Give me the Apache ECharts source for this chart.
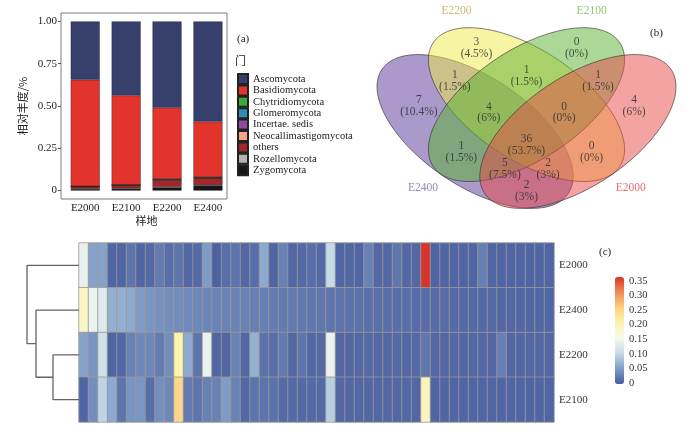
<!DOCTYPE html>
<html><head><meta charset="utf-8">
<script src="https://cdn.jsdelivr.net/npm/echarts@6/dist/echarts.min.js"></script>
<style>html,body{margin:0;padding:0;background:#fff}#c{width:700px;height:429px}</style>
</head><body><div id="c"></div>
<script>
// ---------- (a) stacked bars ----------
const sites = ['E2000','E2100','E2200','E2400'];
const phyla = ['Ascomycota','Basidiomycota','Chytridiomycota','Glomeromycota','Incertae. sedis','Neocallimastigomycota','others','Rozellomycota','Zygomycota'];
const ascomycota            = [0.345, 0.438, 0.510, 0.592];
const basidiomycota         = [0.629, 0.527, 0.421, 0.329];
const chytridiomycota       = [0.0005,0.0005,0.001, 0.001];
const glomeromycota         = [0.001, 0.001, 0.003, 0.003];
const incertaeSedis         = [0.001, 0.001, 0.002, 0.002];
const neocallimastigomycota = [0.0005,0.0005,0.001, 0.001];
const others                = [0.013, 0.018, 0.040, 0.040];
const rozellomycota         = [0.002, 0.004, 0.004, 0.004];
const zygomycota            = [0.008, 0.010, 0.018, 0.028];
const yTicks = [0, 0.25, 0.5, 0.75, 1];

// ---------- (b) Venn ----------
const vennSets = ['E2400','E2200','E2100','E2000'];
const vennRegions = ['E2400','E2200','E2100','E2000','E2400&E2200','E2200&E2100','E2100&E2000',
  'E2400&E2200&E2100','E2200&E2100&E2000','E2400&E2100','E2400&E2200&E2100&E2000','E2200&E2000',
  'E2400&E2100&E2000','E2400&E2200&E2000','E2400&E2000'];
const vennCounts   = [7, 3, 0, 4, 1, 1, 1, 4, 0, 1, 36, 0, 5, 2, 2];
const vennPercents = ['10.4%','4.5%','0%','6%','1.5%','1.5%','1.5%','6%','0%','1.5%','53.7%','0%','7.5%','3%','3%'];

// ---------- (c) heatmap + dendrogram ----------
const heatRows = ['E2000','E2400','E2200','E2100'];
const heatE2000 = [0.135,0.055,0.055,0.008,0.008,0.02,0.008,0.012,0.025,0.015,
  0.02,0.01,0.012,0.05,0.005,0.015,0.02,0.01,0.015,0.06,
  0.008,0.03,0.01,0.012,0.015,0.012,0.1,0.008,0.01,0.008,
  0.03,0.01,0.01,0.022,0.01,0.01,0.35,0.008,0.008,0.008,
  0.008,0.008,0.028,0.008,0.008,0.008,0.008,0.008,0.008,0.008];
const heatE2400 = [0.18,0.14,0.125,0.065,0.065,0.06,0.05,0.045,0.042,0.04,
  0.038,0.036,0.034,0.033,0.032,0.031,0.03,0.03,0.029,0.028,
  0.026,0.025,0.024,0.023,0.022,0.021,0.02,0.019,0.018,0.018,
  0.017,0.016,0.016,0.015,0.015,0.014,0.014,0.013,0.013,0.012,
  0.012,0.012,0.011,0.011,0.01,0.01,0.01,0.009,0.009,0.009];
const heatE2200 = [0.055,0.045,0.11,0.008,0.01,0.03,0.035,0.035,0.025,0.04,
  0.2,0.06,0.02,0.14,0.008,0.01,0.03,0.01,0.065,0.018,
  0.015,0.025,0.01,0.02,0.01,0.012,0.14,0.01,0.01,0.01,
  0.012,0.01,0.01,0.012,0.01,0.012,0.022,0.01,0.01,0.01,
  0.01,0.01,0.01,0.01,0.028,0.01,0.01,0.01,0.01,0.01];
const heatE2100 = [0.008,0.04,0.095,0.06,0.02,0.045,0.045,0.015,0.04,0.035,
  0.24,0.025,0.02,0.03,0.03,0.05,0.03,0.01,0.02,0.02,
  0.018,0.012,0.012,0.012,0.012,0.012,0.09,0.01,0.01,0.01,
  0.01,0.01,0.01,0.01,0.01,0.01,0.19,0.008,0.008,0.008,
  0.008,0.008,0.008,0.008,0.008,0.008,0.008,0.008,0.008,0.008];
const colorTicks = [0,0.05,0.10,0.15,0.20,0.25,0.30,0.35];
const dendroLeaves = ['E2000','E2400','E2200','E2100'];
const dendroMerges = [ // [left child, right child, height, id]
  ['E2200','E2100',0.26,'m1'],
  ['E2400','m1',0.43,'m2'],
  ['E2000','m2',0.52,'m3']
];

// ---------- styling / layout ----------
const SERIF = "'Liberation Serif','DejaVu Serif',serif";
const CJK = "'Noto Sans CJK SC',sans-serif";
const phylumColors = {
  'Ascomycota':'#373f6c','Basidiomycota':'#e2332c','Chytridiomycota':'#3aaa3a','Glomeromycota':'#2a8fb3',
  'Incertae. sedis':'#8d4a9e','Neocallimastigomycota':'#f6a586','others':'#a3272a','Rozellomycota':'#b3b3ab','Zygomycota':'#161616'};
const phylumValues = {
  'Ascomycota':ascomycota,'Basidiomycota':basidiomycota,'Chytridiomycota':chytridiomycota,'Glomeromycota':glomeromycota,
  'Incertae. sedis':incertaeSedis,'Neocallimastigomycota':neocallimastigomycota,'others':others,'Rozellomycota':rozellomycota,'Zygomycota':zygomycota};
const vennEllipses = [
  {cx:0.35, cy:0.47, a:0.36, b:0.185, rot:-45, fill:'rgba(86,52,150,0.5)'},
  {cx:0.50, cy:0.57, a:0.36, b:0.185, rot:-45, fill:'rgba(239,233,72,0.5)'},
  {cx:0.50, cy:0.57, a:0.36, b:0.185, rot:45,  fill:'rgba(90,178,48,0.5)'},
  {cx:0.65, cy:0.47, a:0.36, b:0.185, rot:45,  fill:'rgba(233,71,71,0.5)'}
];
const vennLabelPos = [[0.186,0.565],[0.354,0.78],[0.646,0.78],[0.814,0.565],[0.291,0.658],[0.5,0.676],[0.709,0.658],
  [0.39,0.54],[0.61,0.54],[0.31,0.393],[0.5,0.42],[0.69,0.393],[0.437,0.331],[0.563,0.331],[0.5,0.249]];
const vennSetLabelPos = [[0.198,0.26],[0.296,0.919],[0.69,0.919],[0.804,0.26]];
const vennSetColors = ['#7a6ab8','#b5ab45','#78b64a','#e8474f'];

const heatColors = ['#475a9c','#7f9cc6','#c6dbe8','#f6f8ee','#fdf3ad','#fccf80','#f18a55','#d7352b'];

// ---------- build ----------
const cols = heatE2000.map((_, i) => 'OTU' + (i + 1));
const heatByRow = {E2000: heatE2000, E2400: heatE2400, E2200: heatE2200, E2100: heatE2100};
const heatData = [];
heatRows.forEach((r, ri) => heatByRow[r].forEach((v, ci) => heatData.push([ci, ri, v])));

const barSeries = phyla.slice().reverse().map(p => ({
  type:'bar', name:p, stack:'all', xAxisIndex:1, yAxisIndex:1, barWidth:29,
  data: phylumValues[p], itemStyle:{color:phylumColors[p], borderColor:'#222', borderWidth:0.4}
}));

const nodeY = {}, nodeH = {};
dendroLeaves.forEach((n, i) => { nodeY[n] = i; nodeH[n] = 0; });
const dendroSeries = dendroMerges.map(([l, r, h, id]) => {
  const s = {type:'line', xAxisIndex:2, yAxisIndex:2, symbol:'none', silent:true,
    lineStyle:{color:'#6b625e', width:1.3},
    data:[[nodeH[l], nodeY[l]], [h, nodeY[l]], [h, nodeY[r]], [nodeH[r], nodeY[r]]]};
  nodeY[id] = (nodeY[l] + nodeY[r]) / 2; nodeH[id] = h;
  return s;
});

const series = barSeries.concat(dendroSeries);
const heatIndex = series.length;
series.push({type:'heatmap', xAxisIndex:3, yAxisIndex:3, data:heatData,
  itemStyle:{borderColor:'#9b9b9b', borderWidth:0.8}, emphasis:{disabled:true}});
series.push({type:'custom', xAxisIndex:4, yAxisIndex:4, silent:true, clip:false,
  data: vennEllipses.map(e => [e.cx, e.cy]),
  renderItem(params, api) {
    const e = vennEllipses[params.dataIndex];
    const rr = e.rot * Math.PI / 180, c = Math.cos(rr), s = Math.sin(rr);
    const pts = [];
    for (let k = 0; k < 160; k++) {
      const t = 2 * Math.PI * k / 160, x = e.a * Math.cos(t), y = e.b * Math.sin(t);
      pts.push(api.coord([e.cx + x * c - y * s, e.cy + x * s + y * c]));
    }
    return {type:'polygon', shape:{points:pts}, style:{fill:e.fill, stroke:'rgba(40,40,40,0.75)', lineWidth:0.8}};
  }});
series.push({type:'scatter', xAxisIndex:4, yAxisIndex:4, symbolSize:0, silent:true,
  data: vennLabelPos.map(p => ({value:p})),
  label:{show:true, position:'inside', fontFamily:SERIF, fontSize:11.5, lineHeight:11.5, color:'#2a2a2a',
    formatter: p => vennCounts[p.dataIndex] + '\n(' + vennPercents[p.dataIndex] + ')'}});
series.push({type:'scatter', xAxisIndex:4, yAxisIndex:4, symbolSize:0, silent:true,
  data: vennSets.map((s, i) => ({value:vennSetLabelPos[i], label:{color:vennSetColors[i]}})),
  label:{show:true, position:'inside', fontFamily:SERIF, fontSize:11.5, formatter: p => vennSets[p.dataIndex]}});

const option = {
  animation:false,
  textStyle:{fontFamily:SERIF},
  title:[
    {text:'(a)', left:237, top:34, padding:0, textStyle:{fontFamily:SERIF, fontSize:11, fontWeight:'normal', color:'#222'}},
    {text:'门', left:235, top:55, padding:0, textStyle:{fontFamily:CJK, fontSize:11, fontWeight:'normal', color:'#222'}},
    {text:'(b)', left:650, top:28, padding:0, textStyle:{fontFamily:SERIF, fontSize:11, fontWeight:'normal', color:'#222'}},
    {text:'(c)', left:599, top:247, padding:0, textStyle:{fontFamily:SERIF, fontSize:11, fontWeight:'normal', color:'#222'}}
  ],
  legend:{data:phyla, orient:'vertical', left:237, top:73, padding:0, itemWidth:10, itemHeight:10, itemGap:-0.6,
    icon:'rect', selectedMode:false, textStyle:{fontFamily:SERIF, fontSize:10.5, lineHeight:10.6, color:'#222'}},
  grid:[
    {left:61, top:13, width:166, height:186, show:true, borderColor:'#7f7f7f', borderWidth:1, backgroundColor:'transparent'},
    {left:64.8, top:13, width:163.6, height:186},
    {left:27, top:243, width:52, height:179},
    {left:79, top:243, width:475, height:179},
    {left:362, top:2.5, width:329, height:228.4},
    {left:615, top:281, width:9, height:102}
  ],
  xAxis:[
    {gridIndex:0, type:'category', data:sites, show:false},
    {gridIndex:1, type:'category', data:sites, axisLine:{show:false},
      axisTick:{alignWithLabel:true, length:3, lineStyle:{color:'#555'}},
      axisLabel:{margin:4, fontFamily:SERIF, fontSize:11, color:'#222'},
      name:'样地', nameLocation:'middle', nameGap:15, nameTextStyle:{fontFamily:CJK, fontSize:11, color:'#222'}},
    {gridIndex:2, type:'value', min:0, max:0.52, inverse:true, show:false},
    {gridIndex:3, type:'category', data:cols, show:false},
    {gridIndex:4, type:'value', min:0.02, max:0.98, show:false},
    {gridIndex:5, type:'category', data:['c'], show:false}
  ],
  yAxis:[
    {gridIndex:0, type:'value', min:-0.05, max:1.05, axisLine:{show:false}, splitLine:{show:false},
      axisTick:{show:true, length:3, customValues:yTicks, lineStyle:{color:'#555'}},
      axisLabel:{customValues:yTicks, margin:4, fontFamily:SERIF, fontSize:11, color:'#222',
        formatter: v => v === 0 ? '0' : v.toFixed(2)},
      name:'相对丰度/%', nameLocation:'middle', nameGap:33, nameRotate:90, nameTextStyle:{fontFamily:CJK, fontSize:11, color:'#222'}},
    {gridIndex:1, type:'value', min:-0.05, max:1.05, show:false},
    {gridIndex:2, type:'value', min:-0.5, max:3.5, inverse:true, show:false},
    {gridIndex:3, type:'category', data:heatRows, inverse:true, position:'right',
      axisLine:{show:false}, axisTick:{show:false}, splitLine:{show:false},
      axisLabel:{margin:5, fontFamily:SERIF, fontSize:11, color:'#333'}},
    {gridIndex:4, type:'value', min:0.1, max:0.95, show:false},
    {gridIndex:5, type:'value', min:0, max:0.35, position:'right',
      axisLine:{show:false}, axisTick:{show:false}, splitLine:{show:false},
      axisLabel:{customValues:colorTicks, margin:5, fontFamily:SERIF, fontSize:10.5, color:'#333',
        formatter: v => v === 0 ? '0' : v.toFixed(2)}}
  ],
  visualMap:{type:'continuous', min:0, max:0.35, seriesIndex:heatIndex, orient:'vertical',
    left:615, top:277, itemWidth:9, itemHeight:107, padding:0, calculable:false, hoverLink:false,
    inRange:{color:heatColors}},
  series
};
const chart = echarts.init(document.getElementById('c'));
chart.setOption(option);
</script></body></html>
